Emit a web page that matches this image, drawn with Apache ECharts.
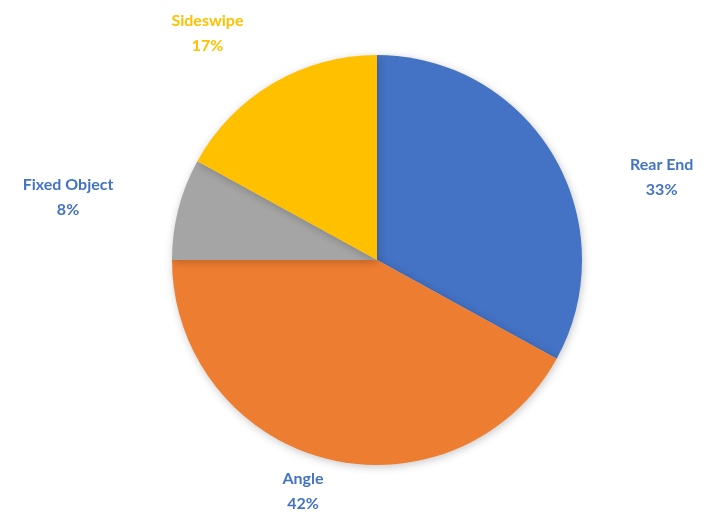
<!DOCTYPE html>
<html>
<head>
<meta charset="utf-8">
<script src="https://cdn.jsdelivr.net/npm/echarts@6/dist/echarts.min.js"></script>
<style>
  html, body { margin: 0; padding: 0; background: #fff; }
  #chart { width: 715px; height: 512px; }
</style>
</head>
<body>
<div id="chart"></div>
<script>
// crash types, clockwise from 12 o'clock
const categories = ["Rear End", "Angle", "Fixed Object", "Sideswipe"];
const shares = [33, 42, 8, 17];
const sliceColors = ["#4472C4", "#ED7D31", "#A5A5A5", "#FFC000"];
const labelColors = ["#4472C4", "#4472C4", "#4472C4", "#FFC000"];
// label nudges (px) from the default outside anchor, to mimic excel placement
const labelNudge = [[76, 32], [-3, 13], [-76, -7], [-40, -33]];

let chart = echarts.init(document.getElementById("chart"));
let option = {
  animation: false,
  series: [
    {
      type: "pie",
      center: [377, 260],
      radius: 205,
      startAngle: 90,
      clockwise: true,
      avoidLabelOverlap: false,
      itemStyle: {
        shadowBlur: 8,
        shadowOffsetX: 1,
        shadowOffsetY: 2,
        shadowColor: "rgba(0,0,0,0.22)",
      },
      label: {
        show: true,
        position: "outside",
        formatter: "{b}\n{d}%",
        fontFamily: "Lato",
        fontWeight: "bold",
        fontSize: 16,
        lineHeight: 25,
      },
      labelLine: { show: false, length: 20, length2: 10 },
      labelLayout: (params) => {
        let n = labelNudge[params.dataIndex];
        return { align: "center", verticalAlign: "middle", dx: n[0], dy: n[1] };
      },
      data: categories.map((name, i) => ({
        name: name,
        value: shares[i],
        itemStyle: { color: sliceColors[i] },
        label: { color: labelColors[i] },
      })),
    },
  ],
};
chart.setOption(option);
</script>
</body>
</html>
